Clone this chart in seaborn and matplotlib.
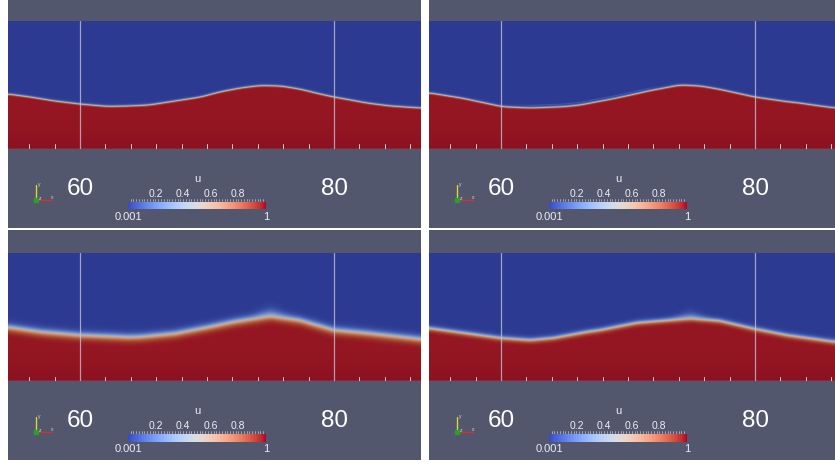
import numpy as np
import matplotlib
matplotlib.use("Agg")
import matplotlib.pyplot as plt
import seaborn as sns
from matplotlib.colors import ListedColormap

sns.set_theme(style="white")
plt.rcParams["font.family"] = ["Liberation Sans", "DejaVu Sans"]

# Free-surface height (y, simulation units above the view bottom) sampled along x
TL_X = [54.3, 56.1, 58.0, 60.0, 62.2, 63.9, 65.4, 67.5, 69.5, 71.0, 72.6, 74.2, 75.8, 77.3, 78.9, 80.0, 81.3, 82.6, 84.4, 86.8]
TL_H = [4.33, 4.09, 3.78, 3.54, 3.35, 3.39, 3.46, 3.78, 4.09, 4.49, 4.80, 5.00, 4.96, 4.72, 4.33, 4.09, 3.86, 3.62, 3.39, 3.23]

TR_X = [54.4, 57.0, 60.1, 62.3, 64.9, 66.2, 67.6, 68.6, 70.2, 71.7, 74.1, 75.7, 77.2, 80.0, 82.5, 83.5, 85.1, 86.3]
TR_H = [4.41, 3.99, 3.33, 3.23, 3.33, 3.46, 3.73, 3.91, 4.25, 4.59, 5.04, 4.96, 4.70, 4.09, 3.73, 3.62, 3.39, 3.23]

BL_X = [54.3, 56.9, 60.0, 63.9, 64.8, 67.5, 70.1, 72.1, 75.0, 77.3, 80.0, 82.6, 85.2, 86.8]
BL_H = [4.25, 3.88, 3.62, 3.46, 3.49, 3.75, 4.25, 4.67, 5.12, 4.80, 4.02, 3.78, 3.49, 3.31]

BR_X = [54.3, 60.0, 62.3, 64.1, 66.8, 67.8, 70.7, 74.9, 77.2, 79.8, 82.5, 86.3]
BR_H = [4.17, 3.39, 3.23, 3.39, 3.88, 4.02, 4.59, 4.93, 4.75, 4.15, 3.62, 3.09]

# Colour legend
CBAR_TITLE = "u"
CBAR_MIN, CBAR_MAX = 0.001, 1.0
CBAR_TICKS = [0.2, 0.4, 0.6, 0.8]
GRID_X = [60, 80]
GRID_LABELS = ["60", "80"]
MINOR_X = list(range(56, 88, 2))

PANEL_GRAY = "#52576e"
PX_PER_UNIT = 12.7
X_LEFT = 54.33
DATA_TOP, DATA_H = 23, 128
PANEL_H = 230
COL_X = [8, 429]
COL_W = [413, 406]
ROW_Y = [-2, 230]
FIG_W, FIG_H = 835, 465

# cool-to-warm map, dimmed as under scene lighting
_base = plt.get_cmap("coolwarm")
_v = np.linspace(0, 1, 256)
_rgb = _base(_v)[:, :3] * (0.76 + 0.06 * _v)[:, None]
_warm = np.clip((_v - 0.5) * 2, 0, 1)
_rgb[:, 1] += 0.075 * _warm
_rgb[:, 2] += 0.01 * _warm
FIELD_CMAP = ListedColormap(np.clip(_rgb, 0, 1))


def smooth(a, k):
    if k <= 1:
        return a
    pad = k // 2
    ap = np.pad(a, pad, mode="edge")
    return np.convolve(ap, np.ones(k) / k, mode="same")[pad:pad + len(a)]


def volume_fraction(xp, hp, ncols, w_up, w_dn, haze, film, k):
    xs = X_LEFT + (np.arange(ncols) + 0.5) / PX_PER_UNIT
    ys = DATA_H / PX_PER_UNIT - (np.arange(DATA_H) + 0.5) / PX_PER_UNIT
    h = smooth(np.interp(xs, xp, hp), k)
    xc = xs[np.argmax(h)]
    wu = w_up + haze * np.exp(-((xs - xc) / 1.1) ** 2)
    d = ys[:, None] - h[None, :]
    w = np.where(d > 0, wu[None, :], w_dn)
    u = 0.5 * (1 - np.tanh(d / w))
    if film is not None:
        a, b, amp = film
        mask = smooth(((xs >= a) & (xs <= b)).astype(float), 25) * amp
        u = np.maximum(u, mask[None, :] * np.exp(-((d - 0.2) / 0.06) ** 2))
    return np.clip(u, CBAR_MIN, CBAR_MAX)


def frac_rect(x, y, w, h):
    return [x / FIG_W, 1 - (y + h) / FIG_H, w / FIG_W, h / FIG_H]


panels = [
    dict(col=0, row=0, xp=TL_X, hp=TL_H, w_up=0.10, w_dn=0.07, haze=0.0, film=None, k=13),
    dict(col=1, row=0, xp=TR_X, hp=TR_H, w_up=0.10, w_dn=0.07, haze=0.0, film=(61.5, 72.0, 0.08), k=13),
    dict(col=0, row=1, xp=BL_X, hp=BL_H, w_up=0.30, w_dn=0.28, haze=0.18, film=None, k=7),
    dict(col=1, row=1, xp=BR_X, hp=BR_H, w_up=0.20, w_dn=0.18, haze=0.18, film=(56.0, 73.0, 0.07), k=7),
]

fig = plt.figure(figsize=(FIG_W / 100, FIG_H / 100), dpi=100, facecolor="white")

for p in panels:
    px0, pw = COL_X[p["col"]], COL_W[p["col"]]
    py0 = ROW_Y[p["row"]]

    # panel background in pixel coordinates
    bg = fig.add_axes(frac_rect(px0, py0, pw, PANEL_H))
    bg.set_facecolor(PANEL_GRAY)
    bg.set_xlim(0, pw)
    bg.set_ylim(PANEL_H, 0)
    bg.set_xticks([])
    bg.set_yticks([])
    for s in bg.spines.values():
        s.set_visible(False)

    # scalar field
    ax = fig.add_axes(frac_rect(px0, py0 + DATA_TOP, pw, DATA_H))
    u = volume_fraction(p["xp"], p["hp"], pw, p["w_up"], p["w_dn"], p["haze"], p["film"], p["k"])
    sns.heatmap(u, ax=ax, cmap=FIELD_CMAP, vmin=0, vmax=1, cbar=False,
                xticklabels=False, yticklabels=False, rasterized=True)
    shade = np.zeros((DATA_H, 1, 4))
    shade[:, 0, :3] = (0.45, 0.0, 0.12)
    depth = (np.arange(DATA_H) + 0.5) / DATA_H
    shade[:, 0, 3] = 0.22 * np.clip((depth - 0.76) / 0.24, 0, 1) ** 1.3
    ax.imshow(shade, extent=(0, pw, DATA_H, 0), aspect="auto", zorder=2,
              interpolation="bilinear")
    for gx in GRID_X:
        cx = (gx - X_LEFT) * PX_PER_UNIT
        ax.axvline(cx, color=(0.78, 0.78, 0.86), lw=0.9, alpha=0.75, zorder=3)
    for mx in MINOR_X:
        if mx in GRID_X:
            continue
        cx = (mx - X_LEFT) * PX_PER_UNIT
        ax.plot([cx, cx], [DATA_H - 4.5, DATA_H], color=(0.80, 0.80, 0.86), lw=0.7, zorder=3)
    ax.axhline(DATA_H - 0.4, color=(0.78, 0.78, 0.86), lw=0.9, alpha=0.8, zorder=3)
    ax.set_xlim(0, pw)
    ax.set_ylim(DATA_H, 0)
    ax.set_xticks([])
    ax.set_yticks([])
    for s in ax.spines.values():
        s.set_visible(False)

    # axis value labels
    for gx, lab in zip(GRID_X, GRID_LABELS):
        cx = (gx - X_LEFT) * PX_PER_UNIT
        bg.text(cx, 191, lab, color="white", fontsize=17.5, ha="center", va="center")

    # orientation triad
    bg.plot([28, 28], [202, 187], color="#d9d92a", lw=1.0)
    bg.plot([28, 44], [202, 202], color="#d83030", lw=1.0)
    bg.plot([28], [202], marker="s", ms=2.2, color="#2aa02a")
    bg.text(30, 186.5, "y", color=(0.85, 0.85, 0.85), fontsize=3.5, ha="left", va="center")
    bg.text(30.5, 200, "z", color=(0.85, 0.85, 0.85), fontsize=3.5, ha="left", va="center")
    bg.text(42.5, 199.5, "x", color=(0.85, 0.85, 0.85), fontsize=3.5, ha="left", va="center")

    # colour legend
    bx0, bx1, by0, bh = 120, 258, 203.5, 8
    cax = fig.add_axes(frac_rect(px0 + bx0, py0 + by0, bx1 - bx0, bh))
    grad = np.linspace(CBAR_MIN, CBAR_MAX, 256)[None, :]
    sns.heatmap(grad, ax=cax, cmap="coolwarm", vmin=CBAR_MIN, vmax=CBAR_MAX, cbar=False,
                xticklabels=False, yticklabels=False, rasterized=True)
    cax.set_xticks([])
    cax.set_yticks([])

    def vx(v):
        return bx0 + (v - CBAR_MIN) / (CBAR_MAX - CBAR_MIN) * (bx1 - bx0)

    for v in np.arange(0.02, 1.0, 0.02):
        bg.plot([vx(v), vx(v)], [by0 - 2.5, by0], color=(0.82, 0.82, 0.86), lw=0.45)
    for v in CBAR_TICKS:
        bg.text(vx(v), 196, f"{v:.1f}", color=(0.93, 0.93, 0.95), fontsize=7.5, ha="center", va="center")
    bg.text((bx0 + bx1) / 2, 181.3, CBAR_TITLE, color=(0.93, 0.93, 0.95), fontsize=8, ha="center", va="center")
    bg.text(bx0, 218.5, f"{CBAR_MIN:g}", color=(0.93, 0.93, 0.95), fontsize=8, ha="center", va="center")
    bg.text(bx1, 218.5, f"{CBAR_MAX:g}", color=(0.93, 0.93, 0.95), fontsize=8, ha="center", va="center")

fig.savefig("out.png", dpi=100, facecolor="white")
